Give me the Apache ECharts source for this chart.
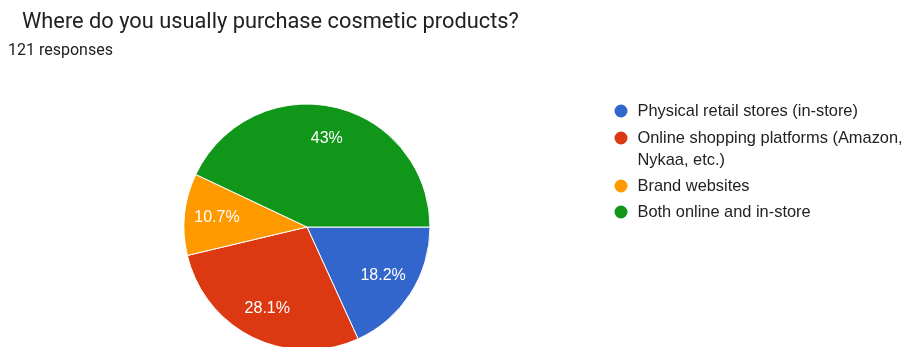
<!DOCTYPE html>
<html>
<head>
<meta charset="utf-8">
<script src="https://cdn.jsdelivr.net/npm/echarts@6/dist/echarts.min.js"></script>
<style>
html, body { margin: 0; padding: 0; background: #fff; }
#chart { width: 903px; height: 347px; }
</style>
</head>
<body>
<div id="chart"></div>
<script>
// survey data, 121 responses
var categories = [
    'Physical retail stores (in-store)',
    'Online shopping platforms (Amazon, Nykaa, etc.)',
    'Brand websites',
    'Both online and in-store'
];
var counts = [22, 34, 13, 52];
var colors = ['#3366cc', '#dc3912', '#ff9900', '#109618'];
var legendRowY = [111, 138, 186, 212];

var total = counts.reduce(function (a, b) { return a + b; }, 0);
var pieData = categories.map(function (name, i) {
    return { name: name, value: counts[i], itemStyle: { color: colors[i] } };
});

function pct(v) {
    var p = Math.round(v / total * 1000) / 10;
    return p + '%';
}

var legends = categories.map(function (name, i) {
    var wrapped = name.indexOf('Nykaa') >= 0;
    return {
        data: [name],
        left: 612.5,
        top: wrapped ? legendRowY[i] - 33 : legendRowY[i] - 11,
        padding: 0,
        icon: 'circle',
        itemWidth: 15,
        itemHeight: 15,
        selectedMode: false,
        formatter: function (n) {
            // blank first line keeps the marker level with the first text line
            return wrapped ? '\nOnline shopping platforms (Amazon,\nNykaa, etc.)' : n;
        },
        textStyle: {
            fontFamily: 'Liberation Sans, Arial, sans-serif',
            fontSize: 16.4,
            color: '#222222',
            lineHeight: 22,
            padding: [0, 0, 0, 4]
        }
    };
});

var chart = echarts.init(document.getElementById('chart'));
chart.setOption({
    animation: false,
    title: [
        {
            text: 'Where do you usually purchase cosmetic products?',
            left: 17,
            top: 7,
            textStyle: { fontFamily: 'Roboto, sans-serif', fontSize: 21.8, fontWeight: 'normal', color: '#202124' }
        },
        {
            text: total + ' responses',
            left: 3,
            top: 38,
            textStyle: { fontFamily: 'Roboto, sans-serif', fontSize: 16, fontWeight: 'normal', color: '#202124' }
        }
    ],
    legend: legends,
    series: [
        {
            type: 'pie',
            center: [307, 227],
            radius: [0, 123],
            startAngle: 0,
            clockwise: true,
            silent: true,
            data: pieData,
            label: { show: false },
            labelLine: { show: false },
            itemStyle: { borderColor: '#ffffff', borderWidth: 1 }
        },
        {
            // transparent ring only to push percentage labels outward
            type: 'pie',
            center: [307, 227],
            radius: [52, 123],
            startAngle: 0,
            clockwise: true,
            silent: true,
            legendHoverLink: false,
            data: pieData.map(function (d) {
                return { name: d.name, value: d.value, itemStyle: { color: 'rgba(0,0,0,0)' } };
            }),
            label: {
                show: true,
                position: 'inside',
                formatter: function (p) { return pct(p.value); },
                fontFamily: 'Liberation Sans, Arial, sans-serif',
                fontSize: 16,
                color: '#ffffff'
            },
            labelLine: { show: false }
        }
    ]
});
</script>
</body>
</html>
